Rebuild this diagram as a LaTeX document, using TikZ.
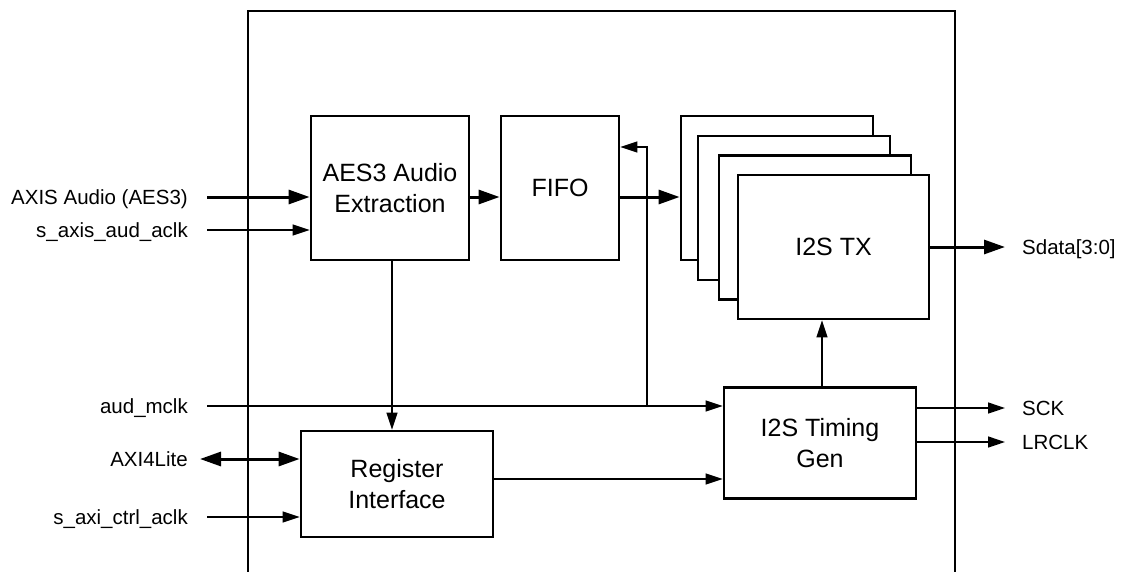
\documentclass[tikz,border=0pt]{standalone}
\usepackage{fontspec}
\setmainfont{Liberation Sans}
\usetikzlibrary{arrows.meta}
\begin{document}
\begin{tikzpicture}[x=1pt,y=-1pt,
  blk/.style={draw,line width=2.8pt,fill=white,inner sep=0pt,align=center,
    font=\fontsize{25}{31}\selectfont},
  lbl/.style={inner sep=0pt,text height=15pt,text depth=0pt,
    font=\fontsize{20.5}{24}\selectfont},
  sig/.style={line width=1.3pt,-{Triangle[length=17pt,width=11pt]}},
  bus/.style={line width=3pt,-{Triangle[length=21pt,width=14pt]}},
  bibus/.style={line width=3pt,{Triangle[length=21pt,width=14pt]}-{Triangle[length=21pt,width=14pt]}},
  wire/.style={line width=1.3pt}]
\useasboundingbox (0,0) rectangle (1122,571);

% core boundary, open at the bottom
\draw[line width=2.8pt] (248,575) -- (248,11) -- (955,11) -- (955,575);

% functional blocks
\node[blk,minimum width=158pt,minimum height=144pt] (aes) at (390,188) {AES3 Audio\\Extraction};
\node[blk,minimum width=118pt,minimum height=144pt] (fifo) at (560,188) {FIFO};
\node[blk,minimum width=192pt,minimum height=144pt] (tx1) at (777,188) {};
\node[blk,minimum width=192pt,minimum height=144pt] (tx2) at (794,208) {};
\node[blk,minimum width=192pt,minimum height=144pt] (tx3) at (815,227.5) {};
\node[blk,minimum width=191pt,minimum height=144pt] (tx4) at (833.5,247) {I2S TX};
\node[blk,minimum width=192pt,minimum height=106pt] (reg) at (397,484) {Register\\Interface};
\node[blk,minimum width=192pt,minimum height=111pt] (tim) at (820,443) {I2S Timing\\Gen};

% port labels
\node[lbl,anchor=east] (laxis) at (188,197) {AXIS Audio (AES3)};
\node[lbl,anchor=east] (lsclk) at (188,230) {s\_axis\_aud\_aclk};
\node[lbl,anchor=east] (lmclk) at (188,406) {aud\_mclk};
\node[lbl,anchor=east] (laxi) at (188,459) {AXI4Lite};
\node[lbl,anchor=east] (lcclk) at (188,517) {s\_axi\_ctrl\_aclk};
\node[lbl,anchor=west] (lsdata) at (1022,247) {Sdata[3:0]};
\node[lbl,anchor=west] (lsck) at (1022,408) {SCK};
\node[lbl,anchor=west] (llr) at (1022,442) {LRCLK};

% inputs
\draw[bus] ([xshift=19pt]laxis.east) -- (aes.west |- laxis);
\draw[sig] ([xshift=19pt]lsclk.east) -- (aes.west |- lsclk);
\draw[sig] ([xshift=19pt]lmclk.east) -- (tim.west |- lmclk);
\draw[bibus] ([xshift=12pt]laxi.east) -- (reg.west |- laxi);
\draw[sig] ([xshift=19pt]lcclk.east) -- (reg.west |- lcclk);

% internal data path
\draw[bus] (aes.east |- laxis) -- (fifo.west |- laxis);
\draw[bus] (fifo.east |- laxis) -- (tx1.west |- laxis);
\draw[sig] (aes.south -| 392,0) -- (reg.north -| 392,0);
\draw[sig] (reg.east |- 0,479) -- (tim.west |- 0,479);
\draw[sig] (tim.north -| 822,0) -- (tx4.south -| 822,0);

% clock tap back to the FIFO
\coordinate (mj) at (647,406);
\coordinate (fbk) at (647,147);
\draw[sig] (mj) -- (fbk) -- (fbk -| fifo.east);

% outputs
\draw[bus] (tx4.east) -- ([xshift=-17pt]lsdata.west);
\draw[sig] (tim.east |- lsck) -- ([xshift=-17pt]lsck.west);
\draw[sig] (tim.east |- llr) -- ([xshift=-17pt]llr.west);
\end{tikzpicture}
\end{document}
